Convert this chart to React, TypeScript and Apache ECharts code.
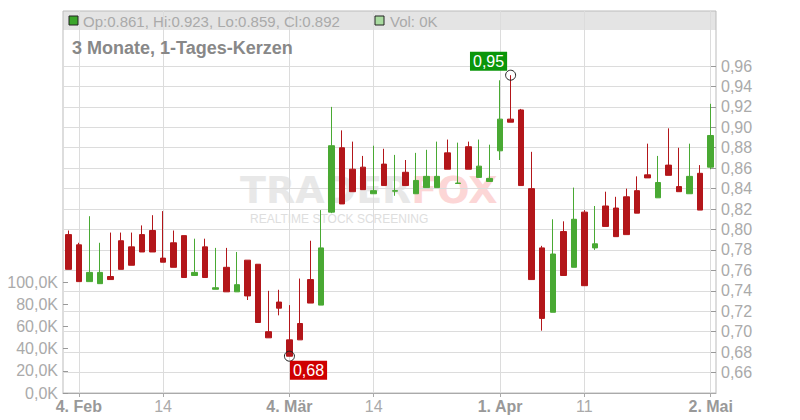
import React, { useEffect, useRef } from 'react';
import * as echarts from 'echarts';

const dates = [
  '2019-02-01', '2019-02-04', '2019-02-05', '2019-02-06', '2019-02-07', '2019-02-08',
  '2019-02-11', '2019-02-12', '2019-02-13', '2019-02-14', '2019-02-15',
  '2019-02-18', '2019-02-19', '2019-02-20', '2019-02-21', '2019-02-22',
  '2019-02-25', '2019-02-26', '2019-02-27', '2019-02-28', '2019-03-01',
  '2019-03-04', '2019-03-05', '2019-03-06', '2019-03-07', '2019-03-08',
  '2019-03-11', '2019-03-12', '2019-03-13', '2019-03-14', '2019-03-15',
  '2019-03-18', '2019-03-19', '2019-03-20', '2019-03-21', '2019-03-22',
  '2019-03-25', '2019-03-26', '2019-03-27', '2019-03-28', '2019-03-29',
  '2019-04-01', '2019-04-02', '2019-04-03', '2019-04-04', '2019-04-05',
  '2019-04-08', '2019-04-09', '2019-04-10', '2019-04-11', '2019-04-12',
  '2019-04-15', '2019-04-16', '2019-04-17', '2019-04-18',
  '2019-04-23', '2019-04-24', '2019-04-25', '2019-04-26',
  '2019-04-29', '2019-04-30', '2019-05-02',
];

const opens = [
  0.795, 0.785, 0.749, 0.747, 0.754, 0.789, 0.783, 0.795, 0.799, 0.772, 0.787,
  0.794, 0.755, 0.783, 0.7415, 0.763, 0.739, 0.770, 0.766, 0.700, 0.729,
  0.692, 0.708, 0.751, 0.726, 0.817, 0.880, 0.859, 0.861, 0.835, 0.864,
  0.8375, 0.856, 0.835, 0.841, 0.841, 0.875, 0.845, 0.881, 0.851, 0.847,
  0.877, 0.908, 0.917, 0.840, 0.782, 0.719, 0.798, 0.763, 0.817, 0.782,
  0.823, 0.821, 0.832, 0.838, 0.8535, 0.831, 0.863, 0.842, 0.835, 0.855, 0.861,
];
const closes = [
  0.761, 0.749, 0.758, 0.758, 0.751, 0.761, 0.765, 0.778, 0.778, 0.768, 0.763,
  0.753, 0.758, 0.753, 0.743, 0.739, 0.746, 0.735, 0.709, 0.694, 0.723,
  0.676, 0.692, 0.728, 0.782, 0.882, 0.825, 0.837, 0.839, 0.838, 0.843,
  0.838, 0.843, 0.848, 0.852, 0.852, 0.859, 0.8455, 0.859, 0.862, 0.850,
  0.908, 0.905, 0.843, 0.751, 0.713, 0.776, 0.755, 0.810, 0.745, 0.786,
  0.803, 0.793, 0.795, 0.816, 0.8505, 0.846, 0.853, 0.837, 0.852, 0.819, 0.892,
];
const lows = [
  0.761, 0.749, 0.749, 0.747, 0.751, 0.761, 0.765, 0.778, 0.778, 0.768, 0.763,
  0.753, 0.755, 0.753, 0.7415, 0.739, 0.739, 0.731, 0.709, 0.694, 0.716,
  0.676, 0.692, 0.728, 0.726, 0.816, 0.825, 0.837, 0.839, 0.835, 0.843,
  0.833, 0.843, 0.835, 0.841, 0.841, 0.859, 0.845, 0.859, 0.851, 0.847,
  0.868, 0.905, 0.843, 0.751, 0.701, 0.719, 0.755, 0.763, 0.745, 0.780,
  0.803, 0.793, 0.795, 0.816, 0.8505, 0.831, 0.853, 0.837, 0.835, 0.819, 0.859,
];
const highs = [
  0.799, 0.787, 0.813, 0.787, 0.797, 0.797, 0.797, 0.804, 0.814, 0.818, 0.799,
  0.794, 0.791, 0.791, 0.782, 0.782, 0.778, 0.770, 0.766, 0.740, 0.741,
  0.726, 0.752, 0.789, 0.819, 0.920, 0.897, 0.886, 0.872, 0.882, 0.879,
  0.873, 0.868, 0.875, 0.878, 0.886, 0.888, 0.885, 0.886, 0.888, 0.883,
  0.946, 0.951, 0.918, 0.876, 0.784, 0.810, 0.808, 0.841, 0.819, 0.823,
  0.837, 0.832, 0.840, 0.852, 0.884, 0.872, 0.899, 0.880, 0.884, 0.863, 0.923,
];

const tickDates = ['2019-02-04', '2019-02-14', '2019-03-04', '2019-03-14', '2019-04-01', '2019-04-11', '2019-05-02'];
const tickTexts = ['4. Feb', '14', '4. Mär', '14', '1. Apr', '11', '2. Mai'];

const priceMin = 0.64;
const priceMax = 0.96;
const priceStep = 0.02;
const volMin = 0;
const volMax = 100000;
const volStep = 20000;
const lastVolumeK = 0;

const FONT = '"Liberation Sans", Arial, Helvetica, sans-serif';
const GREEN = '#49a933';
const RED = '#b3161a';

const isTick = (_i: number, v: string) => tickDates.indexOf(v) >= 0;
const comma = (v: number, d: number) => v.toFixed(d).replace('.', ',');

export default function App() {
  const ref = useRef<HTMLDivElement>(null);
  useEffect(() => {
    document.body.style.margin = '0';
    const chart = echarts.init(ref.current!, null, { renderer: 'svg' });
    const candles = dates.map((_, i) => [opens[i], closes[i], lows[i], highs[i]]);
    const n = dates.length - 1;
    const legendText = `Op:${opens[n].toFixed(3)}, Hi:${highs[n].toFixed(3)}, Lo:${lows[n].toFixed(3)}, Cl:${closes[n].toFixed(3)}`;

    const option: any = {
      animation: false,
      backgroundColor: '#fff',
      textStyle: { fontFamily: FONT },
      grid: [
        { left: 63, right: 84, top: 11, bottom: 27, show: true, borderColor: '#bbb', borderWidth: 1, backgroundColor: 'transparent', outerBoundsMode: 'none' },
        { left: 63, right: 84, top: 66, bottom: 27, outerBoundsMode: 'none' },
        { left: 63, right: 84, top: 282, bottom: 27, outerBoundsMode: 'none' },
      ],
      xAxis: [
        {
          type: 'category', gridIndex: 0, data: dates, boundaryGap: true,
          axisLine: { show: true, lineStyle: { color: '#aaa' } },
          axisTick: { show: true, interval: isTick, alignWithLabel: true, length: 4, lineStyle: { color: '#aaa' } },
          axisLabel: {
            interval: isTick, margin: 5,
            formatter: (v: string) => {
              const k = tickDates.indexOf(v);
              if (k < 0) return '';
              const t = tickTexts[k];
              return t.indexOf('.') >= 0 ? `{b|${t}}` : `{n|${t}}`;
            },
            rich: {
              b: { fontWeight: 'bold', color: '#999', fontSize: 16, fontFamily: FONT },
              n: { color: '#aaa', fontSize: 16, fontFamily: FONT },
            },
          },
          splitLine: { show: true, interval: isTick, alignWithLabel: true, lineStyle: { color: '#dcdcdc', width: 1 } },
        },
        { type: 'category', gridIndex: 1, data: dates, boundaryGap: true, show: false },
        { type: 'category', gridIndex: 2, data: dates, boundaryGap: true, show: false },
      ],
      yAxis: [
        { type: 'value', gridIndex: 0, show: false, splitLine: { show: false } },
        {
          type: 'value', gridIndex: 1, position: 'right', min: priceMin, max: priceMax, interval: priceStep,
          axisLine: { show: false },
          axisTick: { show: true, inside: true, length: 5, lineStyle: { color: '#999' } },
          axisLabel: { color: '#aaa', fontSize: 16, fontFamily: FONT, margin: 5, showMinLabel: false, formatter: (v: number) => comma(v, 2) },
          splitLine: { show: true, lineStyle: { color: '#dcdcdc', width: 1 } },
        },
        {
          type: 'value', gridIndex: 2, position: 'left', min: volMin, max: volMax, interval: volStep,
          axisLine: { show: false },
          axisTick: { show: true, inside: true, length: 5, lineStyle: { color: '#999' } },
          axisLabel: { color: '#aaa', fontSize: 16, fontFamily: FONT, margin: 5, formatter: (v: number) => comma(v / 1000, 1) + 'K' },
          splitLine: { show: false },
        },
      ],
      series: [
        {
          type: 'candlestick', xAxisIndex: 1, yAxisIndex: 1, data: candles, barWidth: 6,
          itemStyle: { color: GREEN, color0: RED, borderColor: GREEN, borderColor0: RED, borderWidth: 1 },
          markPoint: {
            symbol: 'circle', symbolSize: 10,
            itemStyle: { color: 'rgba(255,255,255,0)', borderColor: '#222', borderWidth: 1 },
            data: [
              {
                type: 'min', valueDim: 'lowest',
                label: {
                  show: true, position: [6, 10], align: 'left', verticalAlign: 'top',
                  formatter: (p: any) => comma(Number(p.value), 2),
                  backgroundColor: '#cf0000', color: '#fff', fontSize: 16, fontFamily: FONT, padding: [2, 3, 1, 3],
                },
              },
              {
                type: 'max', valueDim: 'highest',
                label: {
                  show: true, position: [2, 1], align: 'right', verticalAlign: 'bottom',
                  formatter: (p: any) => comma(Number(p.value), 2),
                  backgroundColor: '#0a960a', color: '#fff', fontSize: 16, fontFamily: FONT, padding: [2, 3, 1, 3],
                },
              },
            ],
          },
        },
      ],
      graphic: [
        { type: 'rect', z: -1, silent: true, shape: { x: 63, y: 11, width: 653, height: 19 }, style: { fill: '#e4e4e4' } },
        { type: 'rect', z: 10, silent: true, shape: { x: 69, y: 16, width: 9, height: 9 }, style: { fill: '#3aa52a', stroke: '#222', lineWidth: 1 } },
        { type: 'text', z: 10, silent: true, x: 83, y: 21, style: { text: legendText, fill: '#aaa', font: `15px ${FONT}`, verticalAlign: 'middle' } },
        { type: 'rect', z: 10, silent: true, shape: { x: 375, y: 16, width: 9, height: 9 }, style: { fill: '#a9dba0', stroke: '#222', lineWidth: 1 } },
        { type: 'text', z: 10, silent: true, x: 390, y: 21, style: { text: `Vol: ${lastVolumeK}K`, fill: '#aaa', font: `15px ${FONT}`, verticalAlign: 'middle' } },
        { type: 'text', z: 10, silent: true, x: 72, y: 48, style: { text: '3 Monate, 1-Tages-Kerzen', fill: '#888', font: `bold 18px ${FONT}`, verticalAlign: 'middle' } },
        {
          type: 'text', silent: true, z: -1, x: 240, y: 190,
          style: {
            text: '{a|TRADER}{b|FOX}',
            verticalAlign: 'middle',
            rich: {
              a: { fill: '#e8e8e8', font: 'bold 38px "DejaVu Sans", sans-serif', lineHeight: 30 },
              b: { fill: '#fcd6d6', font: 'bold 38px "DejaVu Sans", sans-serif', lineHeight: 30 },
            },
          },
        },
        { type: 'text', silent: true, z: -1, x: 250, y: 219, style: { text: 'REALTIME STOCK SCREENING', fill: '#dedede', font: `12px ${FONT}`, verticalAlign: 'middle' } },
      ],
    };
    chart.setOption(option);
    return () => chart.dispose();
  }, []);
  return <div ref={ref} style={{ position: 'fixed', left: 0, top: 0, width: 800, height: 420, background: '#fff' }} />;
}
